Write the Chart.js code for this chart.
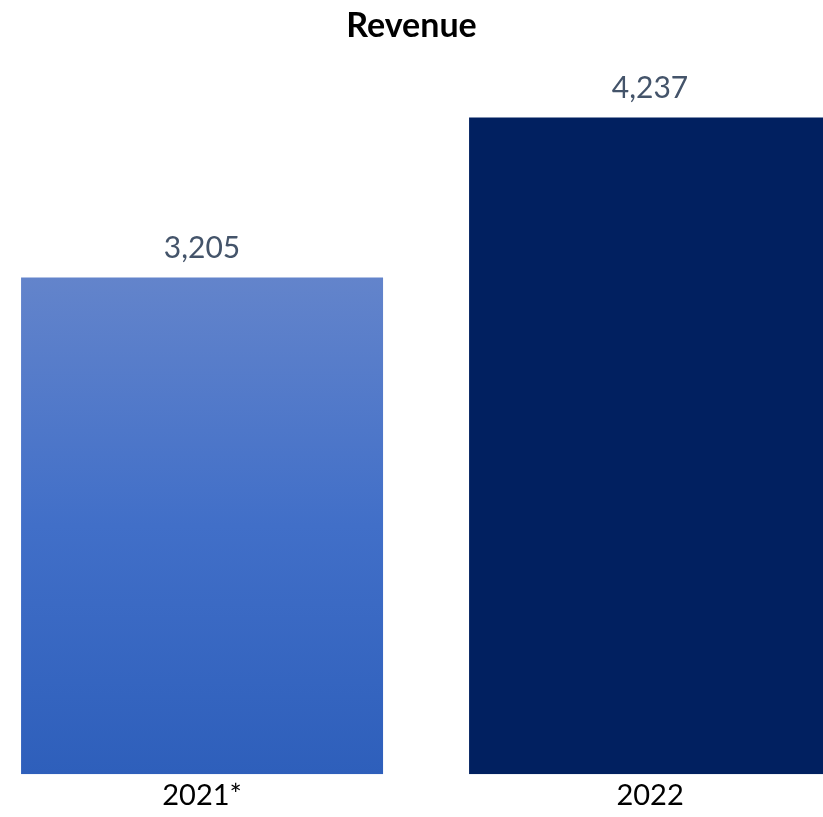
<!DOCTYPE html>
<html>
<head>
<meta charset="utf-8">
<script src="https://cdn.jsdelivr.net/npm/chart.js@4/dist/chart.umd.min.js"></script>
<style>
    html, body { margin: 0; padding: 0; background: #fff; }
    #wrap { width: 823px; height: 817px; }
</style>
</head>
<body>
<div id="wrap"><canvas id="revenueChart"></canvas></div>
<script>
// chart data
const years = ['2021*', '2022'];
const revenue = [3205, 4237];
const barColors = ['gradient', '#012060'];

// label drawn above each bar
const valueLabels = {
    id: 'valueLabels',
    afterDatasetsDraw(chart) {
        const ctx = chart.ctx;
        const meta = chart.getDatasetMeta(0);
        ctx.save();
        ctx.font = '30px Lato';
        ctx.fillStyle = '#44546A';
        ctx.textAlign = 'center';
        ctx.textBaseline = 'middle';
        meta.data.forEach((bar, i) => {
            ctx.fillText(revenue[i].toLocaleString('en-US'), bar.x, bar.y - 29);
        });
        ctx.restore();
    }
};

// vertical gradient for the first bar
function barFill(context) {
    const chart = context.chart;
    const i = context.dataIndex;
    if (barColors[i] !== 'gradient') return barColors[i];
    if (!chart.chartArea) return '#4A74C8';
    const y = chart.scales.y;
    const g = chart.ctx.createLinearGradient(0, y.getPixelForValue(revenue[i]), 0, y.getPixelForValue(0));
    g.addColorStop(0, '#6384CB');
    g.addColorStop(0.5, '#416FC8');
    g.addColorStop(1, '#2E5FBB');
    return g;
}

const ctx = document.getElementById('revenueChart').getContext('2d');
new Chart(ctx, {
    type: 'bar',
    data: {
        datasets: [{
            data: revenue.map((v, i) => ({ x: i, y: v })),
            backgroundColor: barFill,
            borderWidth: 0,
            barPercentage: 0.808,
            categoryPercentage: 1
        }]
    },
    options: {
        responsive: true,
        maintainAspectRatio: false,
        animation: false,
        layout: { padding: 0 },
        plugins: {
            legend: { display: false },
            tooltip: { enabled: false },
            title: {
                display: true,
                text: 'Revenue',
                color: '#000',
                font: { family: 'Lato', size: 34, weight: 'bold' },
                padding: { top: 6, bottom: 10 }
            }
        },
        scales: {
            x: {
                type: 'linear',
                offset: false,
                min: -0.451,
                max: 1.386,
                border: { display: false },
                grid: { display: false, drawTicks: false, offset: false },
                ticks: {
                    stepSize: 1,
                    autoSkip: false,
                    maxRotation: 0,
                    padding: 4,
                    color: '#000',
                    font: { family: 'Lato', size: 29 },
                    callback: (v) => Number.isInteger(v) ? years[v] : null
                }
            },
            y: {
                display: false,
                min: 0,
                max: 4628
            }
        }
    },
    plugins: [valueLabels]
});
</script>
</body>
</html>
